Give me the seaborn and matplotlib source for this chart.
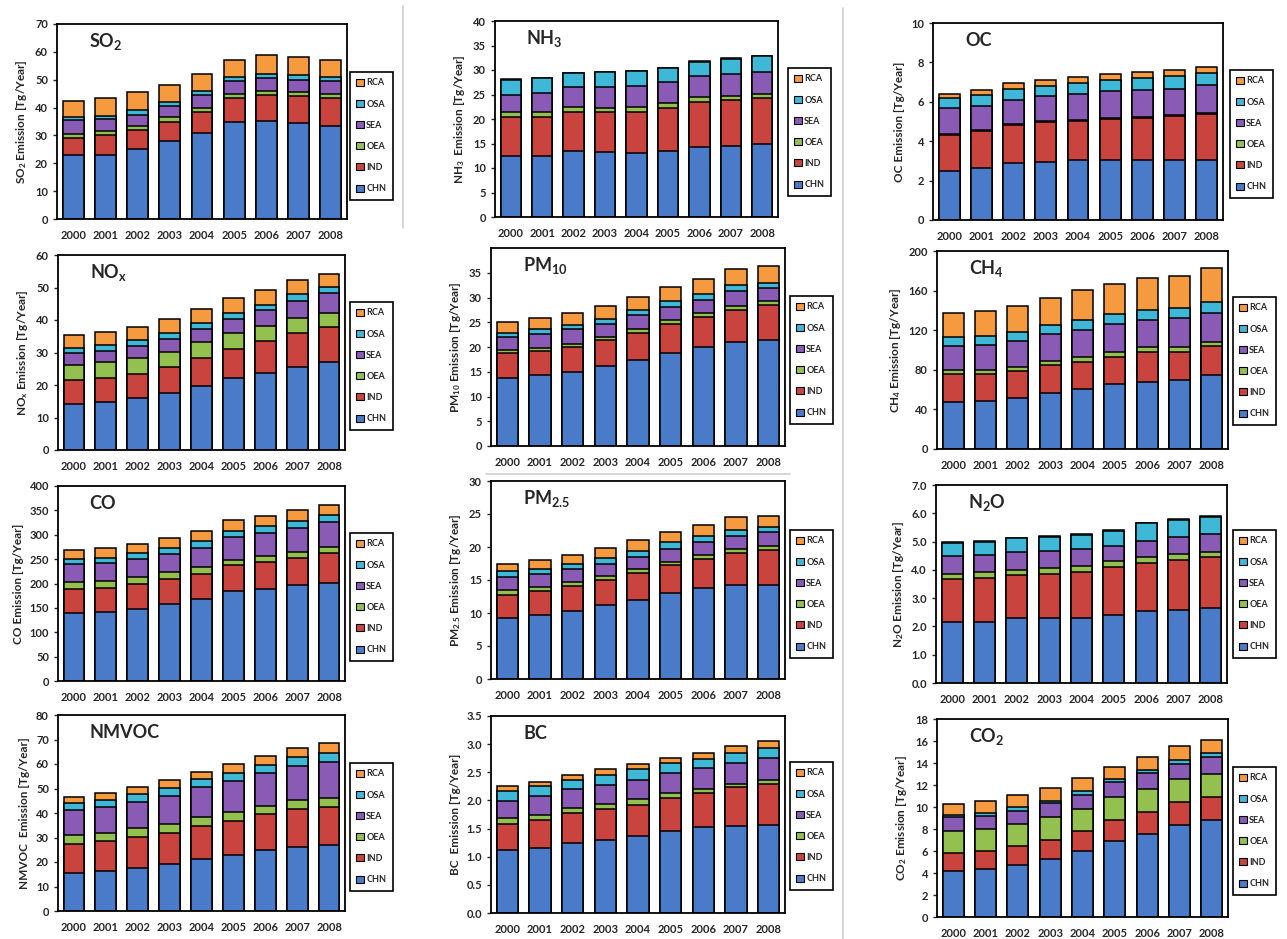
import numpy as np
import pandas as pd
import matplotlib.pyplot as plt
import seaborn as sns
from matplotlib.patches import Patch
from matplotlib.lines import Line2D
from matplotlib.ticker import FormatStrFormatter

# Regional emissions 2000-2008, stacked CHN -> RCA
years = [str(y) for y in range(2000, 2009)]
regions = ["CHN", "IND", "OEA", "SEA", "OSA", "RCA"]
colors = ["#4a7bc8", "#c9433f", "#94c04f", "#8a5bb5", "#3fb8d8", "#f59a3e"]

so2 = {
    "CHN": [23.0, 23.0, 25.0, 28.0, 31.0, 35.0, 35.3, 34.5, 33.3],
    "IND": [6.0, 7.0, 7.0, 7.0, 7.5, 8.5, 9.2, 9.5, 10.2],
    "OEA": [1.5, 1.5, 1.5, 1.5, 1.5, 1.5, 1.5, 1.5, 1.5],
    "SEA": [5.0, 4.5, 4.0, 4.0, 4.5, 4.5, 4.5, 4.5, 4.5],
    "OSA": [1.0, 1.0, 1.5, 1.5, 1.5, 1.3, 1.5, 1.8, 1.3],
    "RCA": [6.0, 6.3, 6.5, 6.0, 6.2, 6.2, 6.7, 6.5, 6.2],
}
nh3 = {
    "CHN": [12.5, 12.5, 13.5, 13.2, 13.1, 13.5, 14.3, 14.5, 14.8],
    "IND": [8.0, 8.0, 8.0, 8.3, 8.3, 8.7, 9.2, 9.3, 9.5],
    "OEA": [1.0, 1.0, 1.0, 0.8, 1.0, 1.0, 0.9, 0.8, 0.9],
    "SEA": [3.5, 3.9, 4.0, 4.2, 4.3, 4.3, 4.3, 4.6, 4.4],
    "OSA": [3.0, 2.9, 2.8, 3.0, 3.0, 2.9, 3.0, 3.1, 3.2],
    "RCA": [0.1, 0.1, 0.1, 0.1, 0.1, 0.1, 0.1, 0.1, 0.1],
}
oc = {
    "CHN": [2.48, 2.65, 2.87, 2.95, 3.04, 3.07, 3.07, 3.07, 3.07],
    "IND": [1.86, 1.85, 1.93, 2.00, 1.99, 2.08, 2.13, 2.23, 2.30],
    "OEA": [0.05, 0.05, 0.05, 0.05, 0.05, 0.05, 0.05, 0.05, 0.05],
    "SEA": [1.27, 1.26, 1.26, 1.28, 1.34, 1.35, 1.37, 1.32, 1.42],
    "OSA": [0.51, 0.56, 0.56, 0.51, 0.51, 0.54, 0.59, 0.63, 0.64],
    "RCA": [0.23, 0.25, 0.27, 0.30, 0.33, 0.31, 0.31, 0.30, 0.29],
}
nox = {
    "CHN": [14.2, 14.7, 15.9, 17.5, 19.6, 22.2, 23.7, 25.5, 27.0],
    "IND": [7.2, 7.5, 7.4, 8.1, 8.8, 8.9, 9.8, 10.6, 10.9],
    "OEA": [4.8, 4.8, 5.1, 4.7, 4.8, 5.0, 4.6, 4.6, 4.2],
    "SEA": [3.6, 3.6, 3.6, 3.9, 4.1, 4.3, 5.0, 5.3, 6.1],
    "OSA": [1.5, 1.6, 1.7, 1.7, 1.7, 1.9, 1.6, 1.9, 2.0],
    "RCA": [4.0, 4.0, 4.0, 4.5, 4.3, 4.4, 4.6, 4.5, 4.1],
}
pm10 = {
    "CHN": [13.7, 14.3, 14.9, 16.2, 17.3, 18.8, 20.0, 21.0, 21.5],
    "IND": [5.1, 4.9, 5.2, 5.3, 5.5, 5.9, 6.0, 6.4, 6.9],
    "OEA": [0.5, 0.6, 0.6, 0.6, 0.8, 0.7, 0.9, 0.8, 0.8],
    "SEA": [2.7, 2.8, 3.0, 2.6, 2.8, 2.7, 2.5, 3.1, 2.7],
    "OSA": [0.8, 1.0, 0.7, 1.0, 1.0, 1.1, 1.4, 1.3, 1.1],
    "RCA": [2.2, 2.2, 2.5, 2.6, 2.8, 2.9, 3.0, 3.1, 3.3],
}
ch4 = {
    "CHN": [47.0, 48.8, 51.9, 56.2, 60.6, 65.3, 68.0, 69.7, 74.7],
    "IND": [28.4, 26.6, 26.6, 28.6, 27.6, 28.0, 30.3, 28.6, 29.3],
    "OEA": [4.4, 4.4, 4.7, 4.4, 5.1, 5.0, 4.4, 5.1, 4.4],
    "SEA": [24.2, 25.5, 25.8, 26.6, 26.9, 27.6, 27.6, 28.6, 29.3],
    "OSA": [9.5, 8.5, 9.5, 9.5, 10.1, 10.1, 10.1, 10.0, 11.1],
    "RCA": [24.2, 25.9, 26.3, 27.6, 30.3, 30.7, 32.0, 32.7, 33.7],
}
co = {
    "CHN": [140.0, 141.5, 148.0, 157.0, 167.5, 184.6, 189.4, 196.0, 201.0],
    "IND": [49.0, 50.0, 51.7, 53.0, 52.5, 52.4, 54.6, 57.0, 61.0],
    "OEA": [14.0, 12.9, 13.3, 13.6, 13.8, 12.0, 11.7, 11.6, 12.0],
    "SEA": [36.0, 37.6, 38.0, 37.4, 39.7, 46.0, 47.9, 49.9, 52.0],
    "OSA": [12.0, 11.0, 11.6, 11.8, 13.0, 12.0, 13.4, 13.7, 14.0],
    "RCA": [18.0, 19.0, 19.1, 20.5, 21.2, 22.6, 20.8, 21.8, 21.0],
}
pm25 = {
    "CHN": [9.3, 9.7, 10.3, 11.2, 12.0, 13.1, 13.8, 14.2, 14.3],
    "IND": [3.5, 3.7, 3.8, 3.8, 4.1, 4.1, 4.4, 4.9, 5.3],
    "OEA": [0.7, 0.5, 0.6, 0.6, 0.6, 0.6, 0.6, 0.6, 0.6],
    "SEA": [1.9, 2.0, 1.9, 1.9, 1.8, 1.9, 1.9, 1.9, 2.0],
    "OSA": [0.9, 0.8, 0.9, 0.8, 0.9, 1.0, 0.9, 1.0, 0.8],
    "RCA": [1.2, 1.3, 1.3, 1.5, 1.7, 1.6, 1.7, 1.9, 1.7],
}
n2o = {
    "CHN": [2.16, 2.16, 2.30, 2.30, 2.30, 2.42, 2.55, 2.57, 2.66],
    "IND": [1.50, 1.56, 1.51, 1.57, 1.63, 1.69, 1.70, 1.77, 1.78],
    "OEA": [0.21, 0.21, 0.20, 0.20, 0.20, 0.21, 0.19, 0.21, 0.20],
    "SEA": [0.62, 0.59, 0.63, 0.59, 0.59, 0.52, 0.59, 0.60, 0.63],
    "OSA": [0.47, 0.47, 0.47, 0.51, 0.51, 0.53, 0.61, 0.61, 0.61],
    "RCA": [0.03, 0.03, 0.03, 0.03, 0.03, 0.03, 0.03, 0.03, 0.03],
}
nmvoc = {
    "CHN": [15.6, 16.5, 17.7, 19.2, 21.2, 22.9, 24.9, 26.3, 26.9],
    "IND": [11.7, 12.1, 12.4, 12.8, 13.5, 14.0, 14.6, 15.3, 15.4],
    "OEA": [3.7, 3.4, 3.6, 3.5, 3.8, 3.6, 3.4, 3.7, 3.7],
    "SEA": [10.2, 10.6, 10.9, 11.5, 12.0, 12.6, 13.3, 13.9, 15.0],
    "OSA": [3.0, 2.7, 3.0, 3.1, 3.2, 3.4, 3.4, 3.8, 3.6],
    "RCA": [2.5, 2.7, 2.9, 3.4, 3.2, 3.4, 3.7, 3.7, 3.8],
}
bc = {
    "CHN": [1.12, 1.16, 1.25, 1.30, 1.37, 1.45, 1.52, 1.55, 1.56],
    "IND": [0.46, 0.49, 0.53, 0.54, 0.55, 0.59, 0.61, 0.68, 0.74],
    "OEA": [0.10, 0.09, 0.09, 0.10, 0.10, 0.09, 0.08, 0.07, 0.07],
    "SEA": [0.31, 0.34, 0.33, 0.34, 0.34, 0.35, 0.36, 0.37, 0.39],
    "OSA": [0.18, 0.17, 0.16, 0.17, 0.19, 0.18, 0.17, 0.18, 0.17],
    "RCA": [0.08, 0.08, 0.09, 0.10, 0.09, 0.10, 0.11, 0.11, 0.12],
}
co2 = {
    "CHN": [4.20, 4.40, 4.76, 5.30, 6.03, 6.94, 7.58, 8.33, 8.79],
    "IND": [1.62, 1.57, 1.66, 1.67, 1.76, 1.85, 1.94, 2.12, 2.12],
    "OEA": [1.97, 2.06, 2.06, 2.12, 2.06, 2.09, 2.15, 2.10, 2.12],
    "SEA": [1.30, 1.17, 1.19, 1.27, 1.27, 1.36, 1.42, 1.39, 1.50],
    "OSA": [0.21, 0.25, 0.30, 0.22, 0.30, 0.34, 0.30, 0.36, 0.35],
    "RCA": [0.97, 1.13, 1.09, 1.15, 1.22, 1.03, 1.13, 1.22, 1.18],
}

# panel: data, title, ylabel, ymax, ystep, tick format, axes box px (l, t, r, b), legend top-left px
panels = [
    (so2, "SO$_2$", "SO$_2$ Emission [Tg/Year]", 70, 10, "%d", (57, 24, 347, 219), (350, 72)),
    (nh3, "NH$_3$", "NH$_3$  Emission [Tg/Year]", 40, 5, "%d", (495, 21, 778, 217), (788, 68)),
    (oc, "OC", "OC Emission [Tg/Year]", 10, 2, "%d", (933, 23, 1223, 220), (1230, 70)),
    (nox, "NO$_x$", "NO$_x$ Emission [Tg/Year]", 60, 10, "%d", (58, 255, 345, 450), (350, 302)),
    (pm10, "PM$_{10}$", "PM$_{10}$ Emission [Tg/Year]", 40, 5, "%d", (491, 248, 785, 446), (790, 296)),
    (ch4, "CH$_4$", "CH$_4$ Emission [Tg/Year]", 200, 40, "%d", (937, 251, 1228, 449), (1233, 297)),
    (co, "CO", "CO Emission [Tg/Year]", 400, 50, "%d", (58, 486, 345, 681), (350, 533)),
    (pm25, "PM$_{2.5}$", "PM$_{2.5}$ Emission [Tg/Year]", 30, 5, "%d", (491, 481, 785, 679), (790, 530)),
    (n2o, "N$_2$O", "N$_2$O Emission [Tg/Year]", 7, 1, "%.1f", (936, 485, 1227, 683), (1233, 530)),
    (nmvoc, "NMVOC", "NMVOC  Emission [Tg/Year]", 80, 10, "%d", (58, 715, 345, 911), (350, 763)),
    (bc, "BC", "BC  Emission [Tg/Year]", 3.5, 0.5, "%.1f", (491, 716, 785, 913), (790, 762)),
    (co2, "CO$_2$", "CO$_2$ Emission [Tg/Year]", 18, 2, "%d", (937, 719, 1228, 917), (1233, 767)),
]

sns.set_style("ticks")
plt.rcParams['font.family'] = ['Lato', 'DejaVu Sans']
plt.rcParams['font.weight'] = 'bold'
plt.rcParams['axes.labelweight'] = 'bold'
plt.rcParams['mathtext.default'] = 'regular'

W, H = 1287, 939
fig = plt.figure(figsize=(W / 100, H / 100), dpi=100)

# faint frame lines from the pasted-together source figure
for x0, y0, x1, y1 in [(403, 6, 403, 228), (843, 8, 843, 939), (486, 474, 790, 474)]:
    fig.add_artist(Line2D([x0 / W, x1 / W], [1 - y0 / H, 1 - y1 / H],
                          transform=fig.transFigure, color="#cfcfcf", lw=1.2))

handles = [Patch(facecolor=colors[i], edgecolor="black", linewidth=0.8, label=regions[i])
           for i in range(len(regions) - 1, -1, -1)]

for data, title, ylabel, ymax, ystep, fmt, box, leg in panels:
    l, t, r, b = box
    ax = fig.add_axes([l / W, 1 - b / H, (r - l) / W, (b - t) / H])
    cum = np.cumsum([data[k] for k in regions], axis=0)
    # draw cumulative totals from the top layer down so they read as a stack
    for i in range(len(regions) - 1, -1, -1):
        df = pd.DataFrame({"year": years, "value": cum[i]})
        sns.barplot(data=df, x="year", y="value", color=colors[i], saturation=1,
                    edgecolor="black", linewidth=1.1, width=0.65, errorbar=None, ax=ax)
    ax.set_xlim(-0.5, 8.5)
    ax.set_ylim(0, ymax)
    ticks = np.arange(0, ymax + ystep / 2, ystep)
    if title == "PM$_{10}$":
        ticks = ticks[:-1]
    ax.set_yticks(ticks)
    ax.yaxis.set_major_formatter(FormatStrFormatter(fmt))
    ax.set_xlabel("")
    ax.set_ylabel(ylabel, fontsize=8.5, fontweight="bold", labelpad=4)
    ax.tick_params(axis="x", length=0, pad=8, labelsize=8)
    ax.tick_params(axis="y", length=3, width=1, direction="out", labelsize=8)
    for s in ax.spines.values():
        s.set_color("black")
        s.set_linewidth(1.3)
    ax.text(0.11, 0.91, title, transform=ax.transAxes, fontsize=13, fontweight="bold",
            va="center", ha="left",
            bbox=dict(facecolor="white", edgecolor="none", pad=1.5))
    lg = ax.legend(handles=handles, loc="upper left",
                   bbox_to_anchor=(leg[0] / W, 1 - leg[1] / H), bbox_transform=fig.transFigure,
                   fontsize=6.5, handlelength=0.8, handleheight=0.8, handletextpad=0.3,
                   labelspacing=1.35, borderpad=0.7, borderaxespad=0, fancybox=False,
                   framealpha=1, edgecolor="black")
    lg.get_frame().set_linewidth(1.2)

fig.savefig("out.png", dpi=100)
